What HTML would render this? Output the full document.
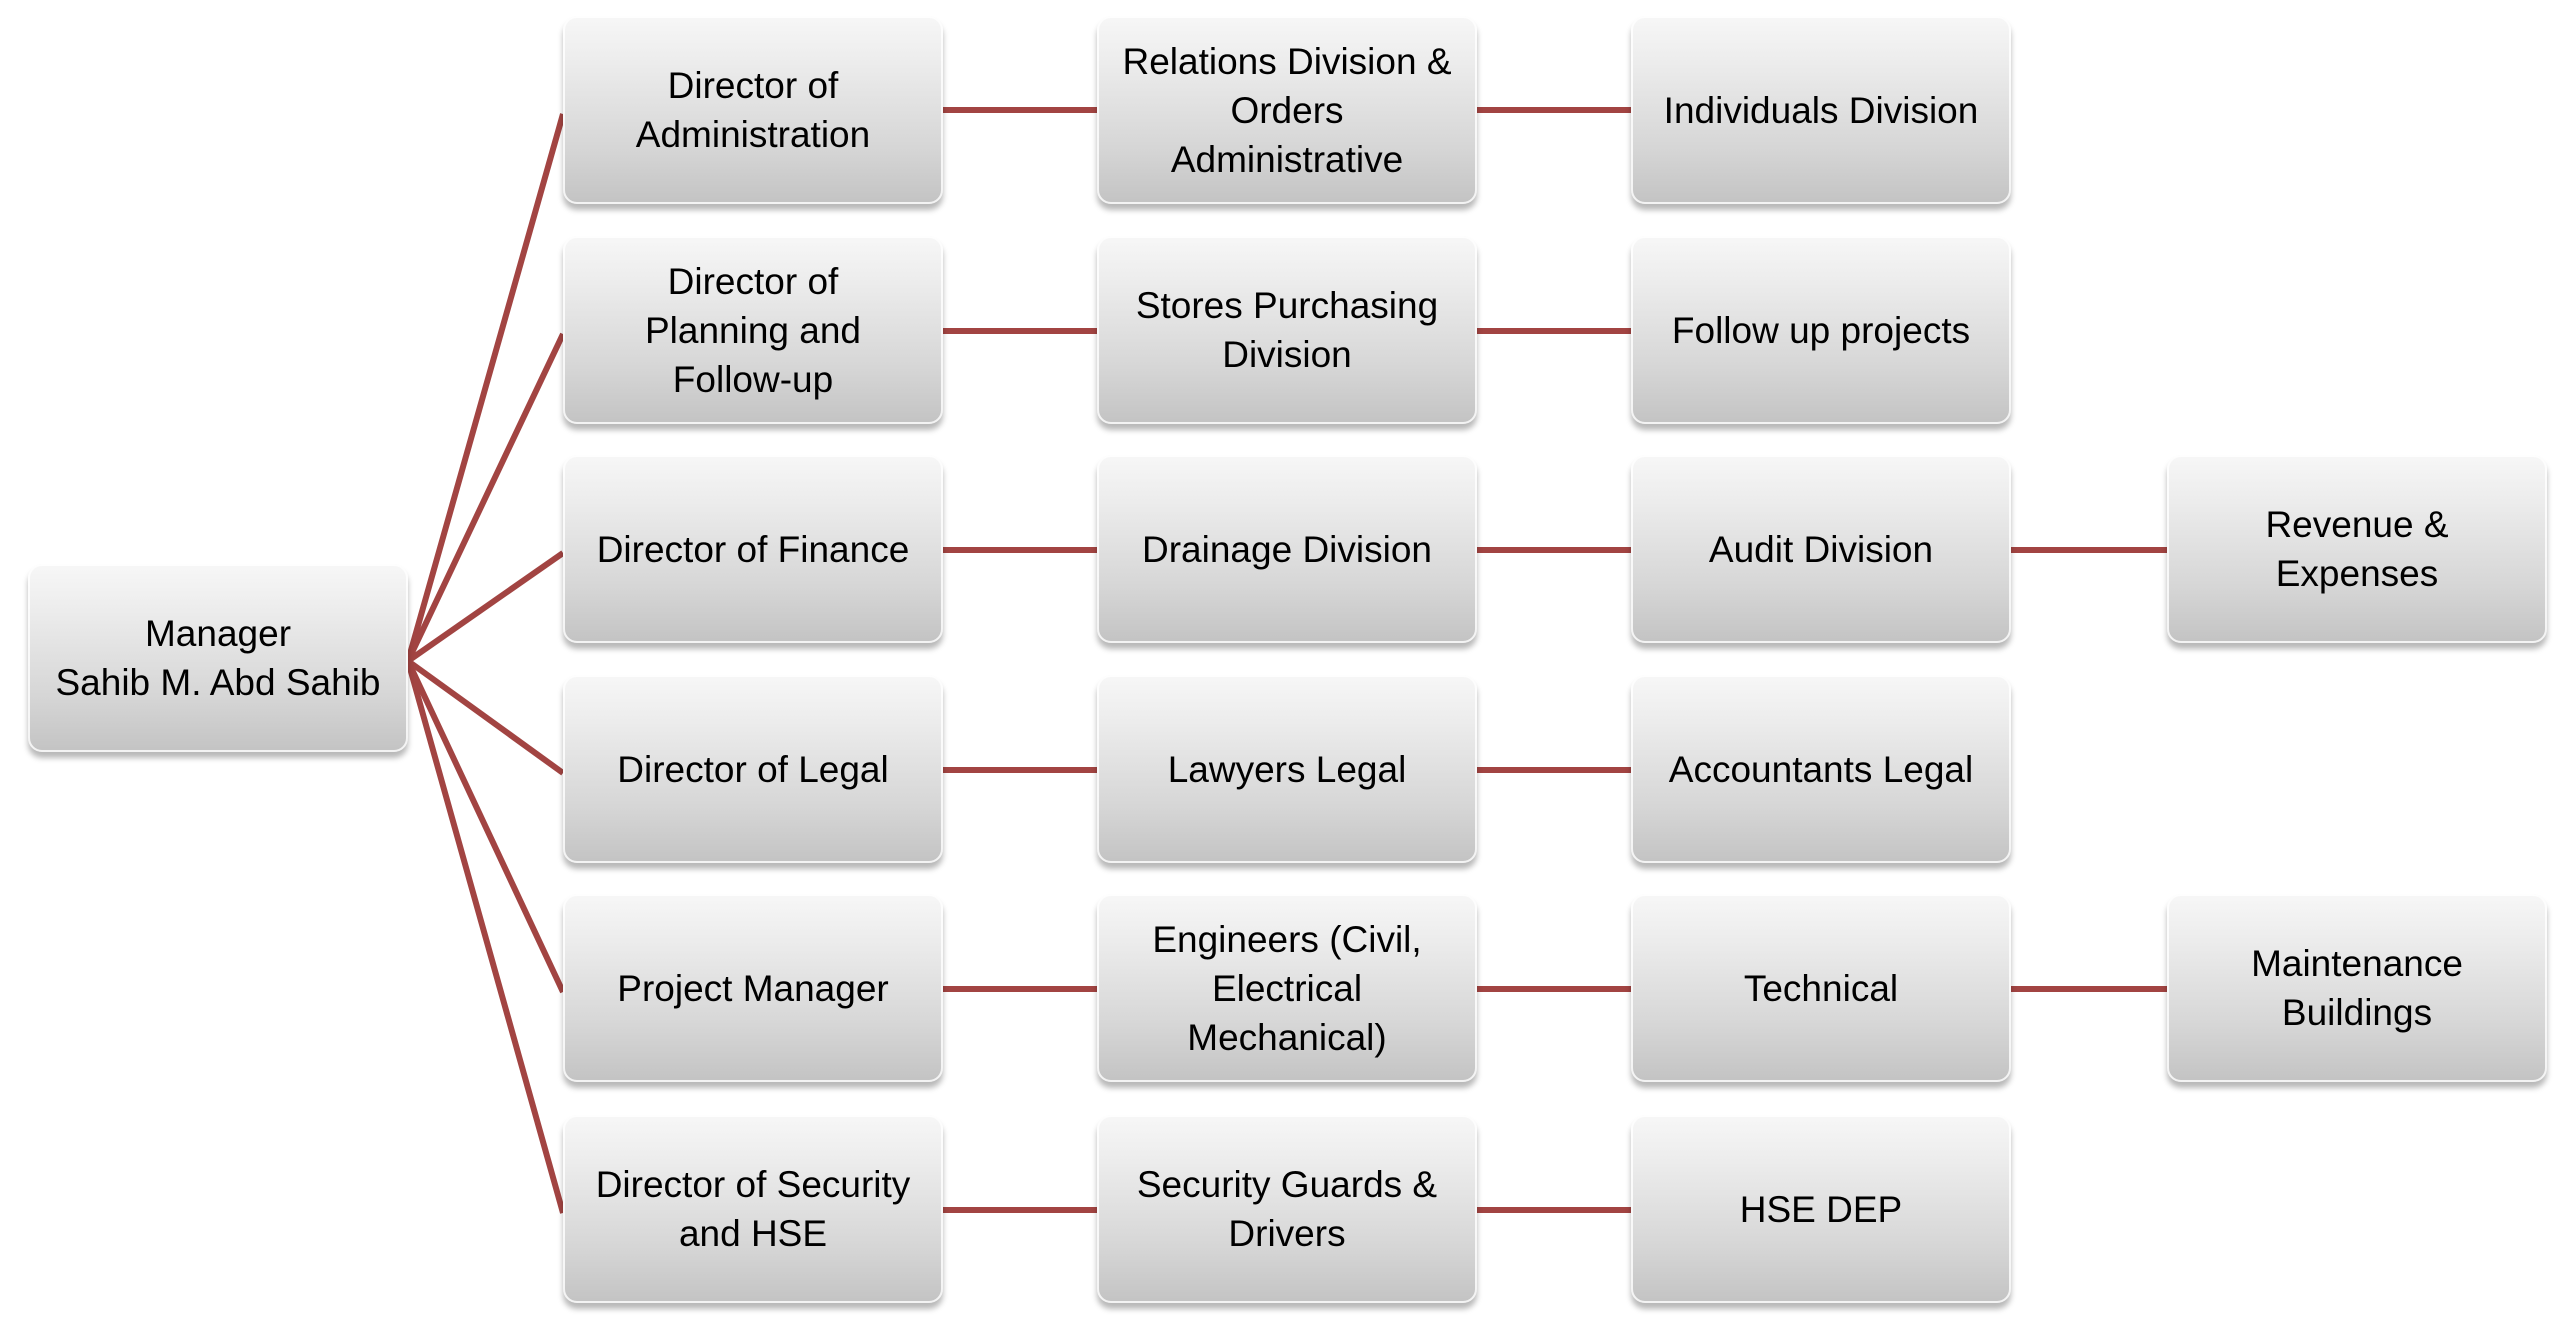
<!DOCTYPE html>
<html><head><meta charset="utf-8"><style>
html,body{margin:0;padding:0;background:#fff;width:2560px;height:1322px;overflow:hidden;position:relative}
.b{position:absolute;width:380px;height:188px;border-radius:14px;background:linear-gradient(#f7f7f7 0%,#ececec 25%,#d6d6d6 70%,#c3c3c3 100%);box-shadow:0 6px 6px rgba(0,0,0,0.28),inset 0 0 0 2px rgba(255,255,255,0.8);display:flex;align-items:center;justify-content:center;text-align:center;font-family:"Liberation Sans",sans-serif;font-size:37px;line-height:49px;color:#000;box-sizing:border-box;padding:0 8px}
svg{position:absolute;left:0;top:0}
</style></head><body>
<svg width="2560" height="1322"><g stroke="#A24442" stroke-width="6" fill="none">
<line x1="408" y1="661" x2="563" y2="114"/>
<line x1="408" y1="661" x2="563" y2="334"/>
<line x1="408" y1="661" x2="563" y2="553"/>
<line x1="408" y1="661" x2="563" y2="773"/>
<line x1="408" y1="661" x2="563" y2="992"/>
<line x1="408" y1="661" x2="563" y2="1213"/>
<line x1="943" y1="110" x2="1097" y2="110"/>
<line x1="1477" y1="110" x2="1631" y2="110"/>
<line x1="943" y1="331" x2="1097" y2="331"/>
<line x1="1477" y1="331" x2="1631" y2="331"/>
<line x1="943" y1="550" x2="1097" y2="550"/>
<line x1="1477" y1="550" x2="1631" y2="550"/>
<line x1="2011" y1="550" x2="2167" y2="550"/>
<line x1="943" y1="770" x2="1097" y2="770"/>
<line x1="1477" y1="770" x2="1631" y2="770"/>
<line x1="943" y1="989" x2="1097" y2="989"/>
<line x1="1477" y1="989" x2="1631" y2="989"/>
<line x1="2011" y1="989" x2="2167" y2="989"/>
<line x1="943" y1="1210" x2="1097" y2="1210"/>
<line x1="1477" y1="1210" x2="1631" y2="1210"/>
</g></svg>
<div class="b" style="left:28px;top:564px">Manager<br>Sahib M. Abd Sahib</div>
<div class="b" style="left:563px;top:16px">Director of<br>Administration</div>
<div class="b" style="left:563px;top:236px">Director of<br>Planning and<br>Follow-up</div>
<div class="b" style="left:563px;top:455px">Director of Finance</div>
<div class="b" style="left:563px;top:675px">Director of Legal</div>
<div class="b" style="left:563px;top:894px">Project Manager</div>
<div class="b" style="left:563px;top:1115px">Director of Security<br>and HSE</div>
<div class="b" style="left:1097px;top:16px">Relations Division &amp;<br>Orders<br>Administrative</div>
<div class="b" style="left:1097px;top:236px">Stores Purchasing<br>Division</div>
<div class="b" style="left:1097px;top:455px">Drainage Division</div>
<div class="b" style="left:1097px;top:675px">Lawyers Legal</div>
<div class="b" style="left:1097px;top:894px">Engineers (Civil,<br>Electrical<br>Mechanical)</div>
<div class="b" style="left:1097px;top:1115px">Security Guards &amp;<br>Drivers</div>
<div class="b" style="left:1631px;top:16px">Individuals Division</div>
<div class="b" style="left:1631px;top:236px">Follow up projects</div>
<div class="b" style="left:1631px;top:455px">Audit Division</div>
<div class="b" style="left:1631px;top:675px">Accountants Legal</div>
<div class="b" style="left:1631px;top:894px">Technical</div>
<div class="b" style="left:1631px;top:1115px">HSE DEP</div>
<div class="b" style="left:2167px;top:455px">Revenue &amp;<br>Expenses</div>
<div class="b" style="left:2167px;top:894px">Maintenance<br>Buildings</div>
</body></html>
